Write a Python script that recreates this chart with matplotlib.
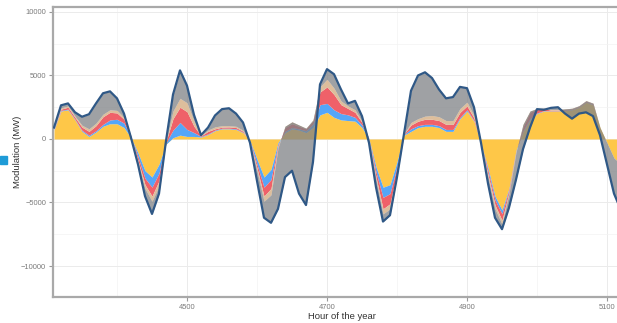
import numpy as np
import matplotlib
matplotlib.use('Agg')
import matplotlib.pyplot as plt
from matplotlib.patches import Rectangle

plt.rcParams['font.family'] = ['Liberation Sans', 'DejaVu Sans']

# hour of the year (every 10 h)
hours = np.arange(4310, 5121, 10)

# contributions to modulation (MW)
yellow = [700, 2200, 2300, 1500, 600, 200, 550, 1000, 1200, 1200,
          900, 100, -1100, -2500, -3000, -2000, -400, 100, 300, 200,
          200, 150, 350, 650, 800, 800, 750, 500, -150, -1600,
          -3000, -2400, -300, 500, 800, 700, 500, 900, 1900, 2100,
          1700, 1500, 1450, 1400, 900, 0, -2200, -3800, -3600, -1800,
          300, 600, 900, 1000, 1000, 900, 600, 600, 1600, 2200,
          1400, -400, -2300, -4500, -5600, -3900, -900, 600, 1500, 2000,
          2200, 2200, 2200, 2250, 2300, 2500, 2900, 2700, 900, -300,
          -1500, -2000]
blue = [50, 50, 50, 50, 80, 100, 100, 150, 300, 350,
        350, 50, -300, -600, -800, -700, 100, 600, 1000, 550,
        300, 50, 50, 50, 50, 50, 50, 30, -50, -400,
        -800, -800, -150, 100, 100, 100, 150, 300, 800, 700,
        600, 500, 450, 300, 200, 0, -400, -800, -700, -400,
        50, 200, 150, 150, 150, 150, 150, 150, 100, 100,
        50, 0, -200, -300, -300, -100, -50, 50, 100, 50,
        30, 20, 20, 20, 20, 20, 20, 20, 0, 0,
        0, 0]
red = [50, 100, 150, 150, 250, 300, 400, 600, 600, 500,
       300, 50, -300, -500, -700, -600, 100, 900, 1200, 1400,
       500, 50, 200, 100, 80, 100, 100, 80, -50, -300,
       -700, -700, -150, 300, 300, 200, 150, 200, 1000, 1300,
       1200, 700, 500, 400, 200, 0, -400, -900, -800, -400,
       50, 300, 350, 400, 400, 400, 400, 400, 400, 300,
       200, 0, -300, -400, -500, -200, -50, 300, 500, 300,
       150, 50, 50, 50, 50, 50, 50, 50, 0, 0,
       0, 0]
tan = [50, 100, 100, 100, 150, 200, 200, 200, 200, 200,
       150, 30, -200, -300, -400, -400, 50, 600, 700, 700,
       400, 50, 100, 150, 120, 100, 100, 80, -50, -200,
       -400, -500, -100, 100, 150, 100, 50, 100, 400, 600,
       500, 300, 200, 200, 100, 0, -200, -400, -400, -200,
       0, 200, 200, 250, 300, 300, 300, 300, 300, 300,
       200, 0, -200, -300, -300, -100, -50, 200, 100, 50,
       50, 50, 50, 50, 50, 50, 50, 50, 0, 0,
       0, 0]
total = [900, 2650, 2800, 2100, 1750, 1950, 2800, 3600, 3750, 3200,
         2000, 100, -2000, -4500, -5900, -4300, -150, 3500, 5400, 4200,
         1900, 300, 900, 1850, 2350, 2420, 2000, 1300, -300, -3300,
         -6200, -6600, -5500, -3000, -2500, -4300, -5200, -1800, 4300, 5500,
         5100, 3900, 2800, 3000, 1800, -300, -3800, -6500, -6000, -3000,
         400, 3800, 5000, 5250, 4800, 3900, 3200, 3300, 4100, 4000,
         2500, -300, -3500, -6200, -7100, -5400, -3200, -800, 900, 2350,
         2300, 2450, 2500, 2000, 1600, 2000, 2100, 1800, 300, -2000,
         -4300, -5600]

c1 = np.array(yellow)
c2 = c1 + np.array(blue)
c3 = c2 + np.array(red)
c4 = c3 + np.array(tan)
c5 = np.array(total)

W, H = 617, 323
fig = plt.figure(figsize=(W / 100, H / 100), dpi=100)
x0, x1, ytop, ybot = 53, 630, 7, 297
ax = fig.add_axes([x0 / W, 1 - ybot / H, (x1 - x0) / W, (ybot - ytop) / H])

ax.fill_between(hours, 0, c1, color='#FEC748', lw=0, zorder=2)
ax.fill_between(hours, c1, c2, color='#55A6F8', lw=0, zorder=2)
ax.fill_between(hours, c2, c3, color='#EF6169', lw=0, zorder=2)
ax.fill_between(hours, c3, c4, color='#DDBE9C', lw=0, zorder=2)
ax.fill_between(hours, c4, c5, color='#7F8286', alpha=0.75, lw=0, zorder=3)
ax.plot(hours, c5, color='#2F5886', lw=1.6, zorder=4, solid_joinstyle='round')

ax.set_xlim(4500 + (x0 - 187) / 0.7, 4500 + (x1 - 187) / 0.7)
ax.set_ylim(-12440, 10390)

ax.set_xticks([4500, 4700, 4900, 5100])
ax.set_yticks([-10000, -5000, 0, 5000, 10000])
ax.set_xticks([4400, 4600, 4800, 5000], minor=True)
ax.set_yticks([-7500, -2500, 2500, 7500], minor=True)
ax.grid(which='major', color='#EBEBEB', lw=0.7, zorder=0)
ax.grid(which='minor', color='#F3F3F3', lw=0.5, zorder=0)
ax.set_axisbelow(True)

for s in ax.spines.values():
    s.set_color('#A9A9A9')
    s.set_linewidth(1.6)
ax.tick_params(which='major', length=3, width=0.8, color='#999999',
               labelsize=5.4, labelcolor='#7A7A7A', pad=2)
ax.tick_params(which='minor', length=0)

ax.set_xlabel('Hour of the year', fontsize=6.8, color='#333333', labelpad=1)
ax.set_ylabel('Modulation (MW)', fontsize=6.8, color='#333333', labelpad=-1)

fig.patches.append(Rectangle((0, 1 - 164 / H), 7 / W, 8 / H,
                             transform=fig.transFigure, color='#1E9BD7'))

fig.savefig('out.png', dpi=100)
